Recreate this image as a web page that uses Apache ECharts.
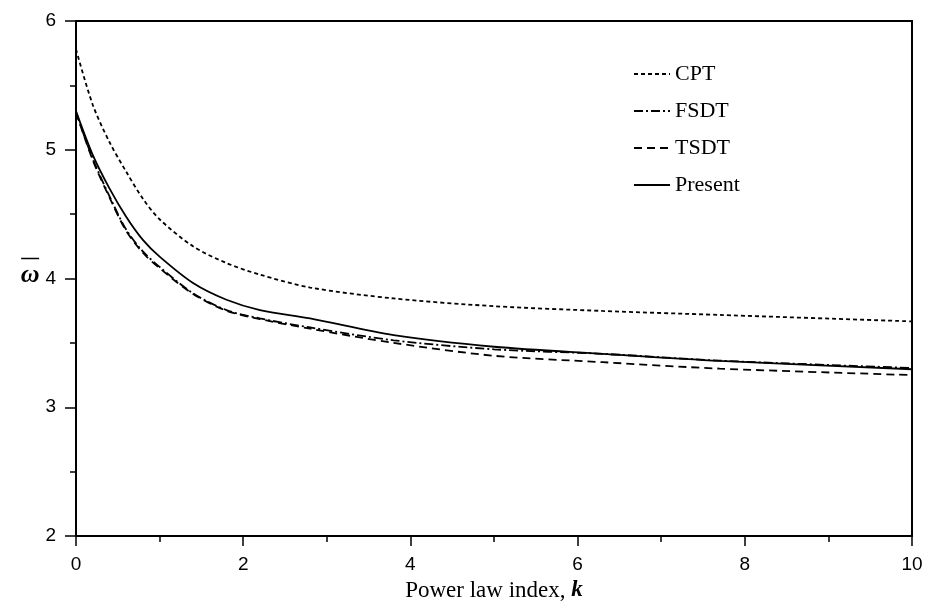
<!DOCTYPE html>
<html>
<head>
<meta charset="utf-8">
<script src="https://cdn.jsdelivr.net/npm/echarts@6/dist/echarts.min.js"></script>
<style>
  html, body { margin: 0; padding: 0; background: #fff; }
  #chart { width: 927px; height: 606px; }
</style>
</head>
<body>
<div id="chart"></div>
<script>
// power law index k
const kValues = [0, 0.2, 0.4, 0.6, 0.8, 1, 1.4, 1.8, 2.2, 2.8, 3.8, 5, 6.3, 7.7, 10]
const cpt     = [5.78, 5.35, 5.06, 4.83, 4.62, 4.46, 4.25, 4.12, 4.03, 3.93, 3.845, 3.785, 3.748, 3.717, 3.667]
const fsdt    = [5.29, 4.93, 4.64, 4.38, 4.21, 4.09, 3.885, 3.755, 3.69, 3.62, 3.52, 3.45, 3.415, 3.362, 3.305]
const tsdt    = [5.29, 4.92, 4.63, 4.37, 4.20, 4.08, 3.88, 3.75, 3.685, 3.61, 3.50, 3.40, 3.35, 3.30, 3.25]
const present = [5.30, 4.96, 4.70, 4.48, 4.30, 4.17, 3.965, 3.835, 3.755, 3.69, 3.56, 3.47, 3.415, 3.36, 3.295]
const seriesNames = ['CPT', 'FSDT', 'TSDT', 'Present']

const pairs = ys => kValues.map((k, i) => [k, ys[i]])

const serif = '"Liberation Serif", "Times New Roman", serif'
const sans = '"Liberation Sans", Arial, sans-serif'

function lineSeries(name, ys, dash) {
  return {
    name,
    type: 'line',
    data: pairs(ys),
    smooth: 0.3,
    symbol: 'none',
    lineStyle: { color: '#000', width: 1.8, type: dash },
    itemStyle: { color: '#000' },
    z: 3,
  }
}

const chart = echarts.init(document.getElementById('chart'))

chart.setOption({
  animation: false,
  backgroundColor: '#fff',
  grid: { left: 76, right: 15, top: 21, bottom: 70, containLabel: false, outerBoundsMode: 'none' },
  legend: {
    orient: 'vertical',
    left: 628,
    top: 58,
    itemWidth: 36,
    itemHeight: 14,
    itemGap: 15,
    data: seriesNames,
    itemStyle: { opacity: 0 },
    textStyle: { fontFamily: serif, fontSize: 22, color: '#000', lineHeight: 21 },
  },
  xAxis: [
    {
      type: 'value',
      min: 0,
      max: 10,
      interval: 2,
      name: '{t|Power law index, }{k|k}',
      nameLocation: 'middle',
      nameGap: 43,
      nameTextStyle: {
        rich: {
          t: { fontFamily: serif, fontSize: 23, color: '#000' },
          k: { fontFamily: serif, fontSize: 23, color: '#000', fontStyle: 'italic', fontWeight: 'bold' },
        },
      },
      axisLine: { onZero: false, lineStyle: { color: '#000', width: 2 } },
      axisTick: { inside: false, length: 10, lineStyle: { color: '#000', width: 1.5 } },
      minorTick: { show: true, splitNumber: 2, length: 6, lineStyle: { color: '#000', width: 1.5 } },
      axisLabel: { fontFamily: sans, fontSize: 19, color: '#000', margin: 19 },
      splitLine: { show: false },
    },
    {
      type: 'value',
      position: 'top',
      min: 0,
      max: 10,
      axisLine: { show: true, onZero: false, lineStyle: { color: '#000', width: 2 } },
      axisTick: { show: false },
      axisLabel: { show: false },
      splitLine: { show: false },
    },
  ],
  yAxis: [
    {
      type: 'value',
      min: 2,
      max: 6,
      interval: 1,
      name: '{bar|}\n{w|ω}',
      nameLocation: 'middle',
      nameRotate: 0,
      nameGap: 44,
      nameTextStyle: {
        align: 'center',
        padding: [0, 0, 16, 0],
        rich: {
          bar: { width: 18, height: 1.5, lineHeight: 10, backgroundColor: '#000' },
          w: { fontFamily: serif, fontSize: 26, fontStyle: 'italic', fontWeight: 'bold', color: '#000', lineHeight: 24 },
        },
      },
      axisLine: { onZero: false, lineStyle: { color: '#000', width: 2 } },
      axisTick: { inside: false, length: 11, lineStyle: { color: '#000', width: 1.5 } },
      minorTick: { show: true, splitNumber: 2, length: 6, lineStyle: { color: '#000', width: 1.5 } },
      axisLabel: { fontFamily: sans, fontSize: 19, color: '#000', margin: 20 },
      splitLine: { show: false },
    },
    {
      type: 'value',
      position: 'right',
      min: 2,
      max: 6,
      axisLine: { show: true, onZero: false, lineStyle: { color: '#000', width: 2 } },
      axisTick: { show: false },
      axisLabel: { show: false },
      splitLine: { show: false },
    },
  ],
  series: [
    lineSeries('CPT', cpt, [4, 3]),
    lineSeries('FSDT', fsdt, [9, 3, 2, 3]),
    lineSeries('TSDT', tsdt, [8, 5]),
    lineSeries('Present', present, 'solid'),
  ],
})
</script>
</body>
</html>
